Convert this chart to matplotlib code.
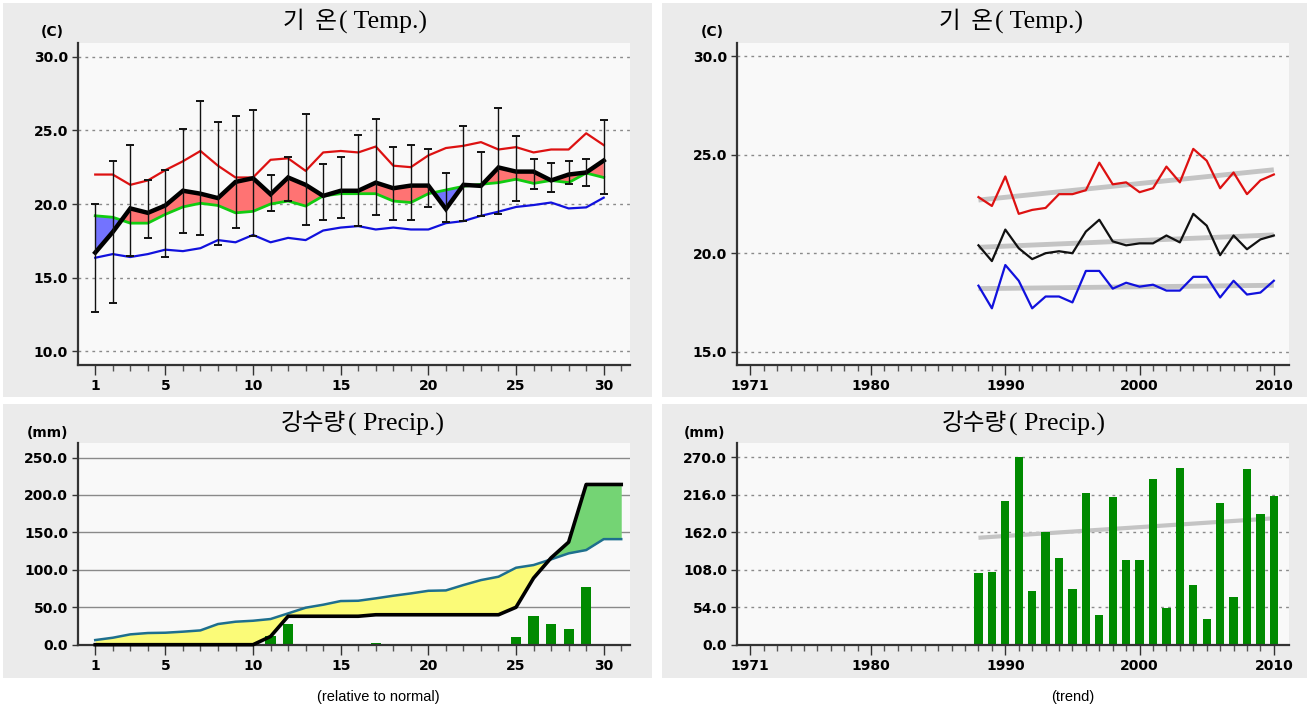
import numpy as np
import matplotlib
matplotlib.use('Agg')
import matplotlib.pyplot as plt
from matplotlib.patches import Rectangle
from matplotlib.ticker import FixedLocator

# ---------------- data ----------------
days_t = list(range(1, 31))
t_max = [22.0, 22.0, 21.3, 21.6, 22.3, 22.9, 23.6, 22.6, 21.8, 21.8,
         23.0, 23.1, 22.25, 23.5, 23.6, 23.5, 23.9, 22.6, 22.5, 23.3,
         23.8, 23.95, 24.2, 23.7, 23.86, 23.5, 23.7, 23.7, 24.8, 24.0]
t_mean = [16.7, 18.1, 19.7, 19.4, 19.9, 20.9, 20.7, 20.4, 21.5, 21.75,
          20.66, 21.8, 21.3, 20.55, 20.9, 20.9, 21.45, 21.07, 21.25, 21.25,
          19.66, 21.3, 21.23, 22.48, 22.2, 22.2, 21.6, 22.0, 22.14, 22.95]
t_norm = [19.2, 19.1, 18.7, 18.7, 19.3, 19.8, 20.05, 19.9, 19.4, 19.5,
          20.0, 20.2, 19.86, 20.55, 20.7, 20.7, 20.7, 20.2, 20.1, 20.7,
          20.95, 21.2, 21.34, 21.45, 21.68, 21.4, 21.6, 21.45, 22.1, 21.8]
t_min = [16.35, 16.6, 16.4, 16.6, 16.9, 16.8, 17.0, 17.55, 17.4, 17.9,
         17.4, 17.7, 17.55, 18.2, 18.4, 18.5, 18.27, 18.4, 18.27, 18.27,
         18.7, 18.84, 19.2, 19.48, 19.8, 19.93, 20.1, 19.7, 19.77, 20.43]
err_hi = [20.0, 22.9, 24.0, 21.6, 22.3, 25.1, 27.0, 25.6, 26.0, 26.4,
          22.0, 23.2, 26.1, 22.7, 23.2, 24.7, 25.8, 23.9, 24.0, 23.7,
          22.1, 25.3, 23.5, 26.5, 24.6, 23.07, 22.8, 22.9, 23.07, 25.7]
err_lo = [12.7, 13.3, 16.5, 17.7, 16.4, 18.0, 17.9, 17.2, 18.4, 17.85,
          19.5, 20.2, 18.6, 18.9, 19.07, 18.5, 19.27, 18.9, 18.9, 19.8,
          18.75, 18.84, 19.2, 19.3, 20.2, 21.0, 20.84, 21.36, 21.2, 20.7]

days_p = list(range(1, 32))
p_daily = [0, 0, 0, 0, 0, 0, 0, 0, 0, 0,
           11, 27, 0, 0, 0, 0, 2, 0, 0, 0,
           0, 0, 0, 0, 10, 39, 27, 21, 77, 0, 0]
p_norm_cum = [6.2, 9.3, 13.8, 15.6, 16.0, 17.4, 19.1, 27.6, 30.7, 32.0,
              34.3, 41.8, 49.4, 53.4, 58.3, 58.7, 61.9, 65.4, 68.5, 72.0,
              72.5, 79.7, 86.3, 90.8, 102.8, 106.4, 114.0, 122.0, 126.4, 141.0, 141.0]

years = list(range(1988, 2011))
yr_max = [22.85, 22.4, 23.9, 22.0, 22.2, 22.3, 23.0, 23.0, 23.2, 24.6, 23.5, 23.6,
          23.1, 23.3, 24.4, 23.6, 25.3, 24.7, 23.3, 24.1, 23.0, 23.7, 24.0]
yr_mean = [20.4, 19.6, 21.2, 20.25, 19.7, 20.0, 20.1, 20.0, 21.1, 21.7, 20.6, 20.4,
           20.5, 20.5, 20.9, 20.55, 22.0, 21.4, 19.9, 20.9, 20.2, 20.7, 20.9]
yr_min = [18.35, 17.2, 19.4, 18.6, 17.2, 17.8, 17.8, 17.5, 19.1, 19.1, 18.2, 18.5,
          18.3, 18.4, 18.1, 18.1, 18.8, 18.8, 17.75, 18.6, 17.9, 18.0, 18.6]
yr_precip = [102.8, 105.2, 207, 270, 77.4, 162, 124.5, 80.2, 218, 42.8, 212, 121.6,
             122, 238, 53.3, 254, 86, 37, 204.7, 68.7, 253, 188, 214]
trend_years = [1988, 2010]
trend_max = [22.7, 24.24]
trend_mean = [20.3, 20.93]
trend_min = [18.2, 18.37]
trend_precip = [154, 182]

# ---------------- figure ----------------
W, H = 1310, 713
fig = plt.figure(figsize=(W / 100, H / 100), dpi=100)
fig.patch.set_facecolor('white')

PANEL = '#ebebeb'
PLOT = '#f9f9f9'


def px_rect(x0, y0, x1, y1):
    return (x0 / W, 1 - y1 / H, (x1 - x0) / W, (y1 - y0) / H)


for (x0, y0, x1, y1) in [(3, 3, 652, 397), (662, 3, 1307, 397),
                         (3, 404, 652, 678), (662, 404, 1307, 678)]:
    r = Rectangle((x0 / W, 1 - y1 / H), (x1 - x0) / W, (y1 - y0) / H,
                  transform=fig.transFigure, facecolor=PANEL, edgecolor='none', zorder=-5)
    fig.patches.append(r)

ax_tl = fig.add_axes(px_rect(77.7, 43, 630, 365))
ax_tr = fig.add_axes(px_rect(736.8, 43, 1288.6, 365))
ax_bl = fig.add_axes(px_rect(77.7, 443.3, 630, 644.7))
ax_br = fig.add_axes(px_rect(736.8, 443.3, 1288.6, 644.7))

TICKFONT = dict(family='DejaVu Sans', weight='bold', size=10)


def style_axes(ax, yticks, ylabels, grid_ls, grid_color, xmajor, xminor, xlabels):
    ax.set_facecolor(PLOT)
    for s in ['top', 'right']:
        ax.spines[s].set_visible(False)
    for s in ['left', 'bottom']:
        ax.spines[s].set_color('#333333')
        ax.spines[s].set_linewidth(1.6)
    ax.set_yticks(yticks)
    ax.set_yticklabels(ylabels, fontdict=TICKFONT)
    ax.tick_params(axis='y', length=4, width=1, pad=3, color='#333333')
    ax.xaxis.set_major_locator(FixedLocator(xmajor))
    ax.xaxis.set_minor_locator(FixedLocator(xminor))
    ax.set_xticklabels(xlabels, fontdict=TICKFONT)
    ax.tick_params(axis='x', which='major', length=7, width=1, pad=3, color='#333333')
    ax.tick_params(axis='x', which='minor', length=4, width=1, color='#555555')
    for yv in yticks:
        ax.axhline(yv, color=grid_color, lw=1.0, ls=grid_ls, zorder=0.5)


# ---- top-left: daily temperature vs normal ----
d = np.array(days_t, dtype=float)
tm = np.array(t_mean)
tn = np.array(t_norm)
ax = ax_tl
ax.set_xlim(0, 31.5)
ax.set_ylim(9.07, 30.93)
ax.fill_between(d, tm, tn, where=tm >= tn, interpolate=True, color='#ff7373', lw=0, zorder=1)
ax.fill_between(d, tm, tn, where=tm < tn, interpolate=True, color='#7373ff', lw=0, zorder=1)
ax.plot(d, t_max, color='#dd1111', lw=1.6, zorder=2)
ax.plot(d, t_min, color='#1111dd', lw=1.6, zorder=2)
ax.plot(d, t_norm, color='#11cc11', lw=2.0, zorder=2)
ax.plot(d, t_mean, color='black', lw=3.2, zorder=3, solid_joinstyle='miter')
lo = np.array(err_lo)
hi = np.array(err_hi)
ax.errorbar(d, (lo + hi) / 2, yerr=(hi - lo) / 2, fmt='none', ecolor='#111111',
            elinewidth=1.0, capsize=2.8, capthick=1.4, zorder=4)
style_axes(ax, [10, 15, 20, 25, 30], ['10.0', '15.0', '20.0', '25.0', '30.0'],
           (0, (2, 3)), '#8a8a8a', [1, 5, 10, 15, 20, 25, 30], list(range(1, 32)),
           ['1', '5', '10', '15', '20', '25', '30'])

# ---- bottom-left: cumulative precipitation vs normal ----
dp = np.array(days_p, dtype=float)
pc = np.cumsum(p_daily)
pn = np.array(p_norm_cum)
ax = ax_bl
ax.set_xlim(0, 31.5)
ax.set_ylim(0, 269)
ax.fill_between(dp, pc, pn, where=pn >= pc, interpolate=True, color='#fbfb78', lw=0, zorder=1)
ax.fill_between(dp, pc, pn, where=pc > pn, interpolate=True, color='#74d474', lw=0, zorder=1)
ax.bar(dp, p_daily, width=0.58, color='#008a00', zorder=2)
ax.plot(dp, pn, color='#1e6f8e', lw=1.8, zorder=3)
ax.plot(dp, pc, color='black', lw=2.6, zorder=4, clip_on=False)
style_axes(ax, [0, 50, 100, 150, 200, 250], ['0.0', '50.0', '100.0', '150.0', '200.0', '250.0'],
           '-', '#8a8a8a', [1, 5, 10, 15, 20, 25, 30], list(range(1, 32)),
           ['1', '5', '10', '15', '20', '25', '30'])

# ---- top-right: yearly temperature trend ----
ax = ax_tr
ax.set_xlim(1970, 2011.1)
ax.set_ylim(14.32, 30.68)
for tr in (trend_max, trend_mean, trend_min):
    ax.plot(trend_years, tr, color='#c4c4c4', lw=3.5, zorder=1, solid_capstyle='butt')
ax.plot(years, yr_max, color='#dd1111', lw=1.6, zorder=2)
ax.plot(years, yr_mean, color='#111111', lw=1.6, zorder=2)
ax.plot(years, yr_min, color='#1111dd', lw=1.6, zorder=2)
style_axes(ax, [15, 20, 25, 30], ['15.0', '20.0', '25.0', '30.0'],
           (0, (2, 3)), '#8a8a8a', [1971, 1980, 1990, 2000, 2010], list(range(1971, 2011)),
           ['1971', '1980', '1990', '2000', '2010'])

# ---- bottom-right: yearly precipitation trend ----
ax = ax_br
ax.set_xlim(1970, 2011.1)
ax.set_ylim(0, 290)
ax.bar(years, yr_precip, width=0.62, color='#008a00', zorder=2)
ax.plot(trend_years, trend_precip, color='#c4c4c4', lw=3.0, zorder=1.5, solid_capstyle='butt')
style_axes(ax, [0, 54, 108, 162, 216, 270], ['0.0', '54.0', '108.0', '162.0', '216.0', '270.0'],
           (0, (2, 3)), '#8a8a8a', [1971, 1980, 1990, 2000, 2010], list(range(1971, 2011)),
           ['1971', '1980', '1990', '2000', '2010'])

# ---------------- titles & labels ----------------
KFONT = dict(family=['Noto Sans CJK KR', 'DejaVu Sans'], size=17)
SFONT = dict(family=['Liberation Serif', 'DejaVu Serif'], size=18.5)


def title(split_x, y, kor, eng):
    fig.text(split_x / W, 1 - y / H, kor, ha='right', va='center', **KFONT)
    fig.text(split_x / W + 2 / W, 1 - y / H, eng, ha='left', va='center', **SFONT)


title(337, 22, '기  온', '( Temp.)')
title(993, 22, '기  온', '( Temp.)')
title(346, 424, '강수량', '( Precip.)')
title(1007, 424, '강수량', '( Precip.)')

UFONT = dict(family='DejaVu Sans', weight='bold', size=10)
fig.text(52 / W, 1 - 32 / H, '(C)', ha='center', va='center', **UFONT)
fig.text(712 / W, 1 - 32 / H, '(C)', ha='center', va='center', **UFONT)
fig.text(47 / W, 1 - 433 / H, '(mm)', ha='center', va='center', **UFONT)
fig.text(705 / W, 1 - 433 / H, '(mm)', ha='center', va='center', **UFONT)

CFONT = dict(family=['Liberation Sans', 'DejaVu Sans'], size=10.5)
fig.text(378 / W, 1 - 697 / H, '(relative to normal)', ha='center', va='center', **CFONT)
fig.text(1073 / W, 1 - 697 / H, '(trend)', ha='center', va='center', **CFONT)

fig.savefig('out.png', dpi=100, facecolor='white')
